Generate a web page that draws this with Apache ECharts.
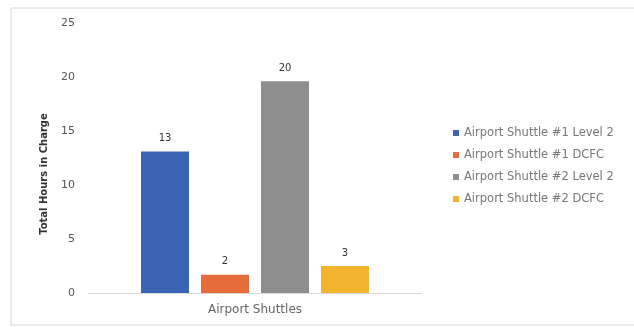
<!DOCTYPE html>
<html>
<head>
<meta charset="utf-8">
<script src="https://cdn.jsdelivr.net/npm/echarts@6/dist/echarts.min.js"></script>
<style>
  html, body { margin: 0; padding: 0; background: #fff; }
</style>
</head>
<body>
<div id="shuttle-chart" style="width: 634px; height: 327px;"></div>
<script>
// values
const categories = ['Airport Shuttles'];
const seriesNames = [
  'Airport Shuttle #1 Level 2',
  'Airport Shuttle #1 DCFC',
  'Airport Shuttle #2 Level 2',
  'Airport Shuttle #2 DCFC'
];
const shuttle1Level2 = [13.1];
const shuttle1Dcfc = [1.7];
const shuttle2Level2 = [19.6];
const shuttle2Dcfc = [2.5];
const colors = ['#3b63b6', '#e66c3c', '#8e8e8e', '#f2b32f'];

const chart = echarts.init(document.getElementById('shuttle-chart'));

const seriesData = [shuttle1Level2, shuttle1Dcfc, shuttle2Level2, shuttle2Dcfc];

let option = {
  color: colors,
  animation: false,
  textStyle: { fontFamily: 'DejaVu Sans' },
  graphic: [
    {
      type: 'rect',
      shape: { x: 11, y: 8, width: 640, height: 317 },
      style: { fill: 'none', stroke: '#d6d6d6', lineWidth: 1 },
      silent: true
    }
  ],
  grid: {
    left: 88,
    right: 212,
    top: 23,
    bottom: 34
  },
  legend: {
    orient: 'vertical',
    left: 448,
    top: 122,
    itemWidth: 6,
    itemHeight: 6,
    itemGap: 10,
    icon: 'rect',
    textStyle: { color: '#777', fontSize: 11.5 },
    data: seriesNames
  },
  xAxis: {
    type: 'category',
    data: categories,
    axisTick: { show: false },
    axisLine: { lineStyle: { color: '#d9d9d9', width: 1 } },
    axisLabel: { color: '#666', fontSize: 12, margin: 11 }
  },
  yAxis: {
    type: 'value',
    min: 0,
    max: 25,
    interval: 5,
    name: 'Total Hours in Charge',
    nameLocation: 'middle',
    nameGap: 39,
    nameTextStyle: { color: '#333', fontSize: 10, fontWeight: 'bold', padding: [0, 32, 0, 0] },
    splitLine: { show: false },
    axisLine: { show: false },
    axisTick: { show: false },
    axisLabel: { color: '#555', fontSize: 11, margin: 13 }
  },
  series: seriesData.map((d, i) => ({
    name: seriesNames[i],
    type: 'bar',
    barWidth: 48,
    barGap: '25%',
    data: d,
    label: {
      show: true,
      position: 'top',
      distance: 8,
      color: '#333',
      fontSize: 10,
      formatter: p => Math.round(p.value)
    }
  }))
};

chart.setOption(option);
</script>
</body>
</html>
